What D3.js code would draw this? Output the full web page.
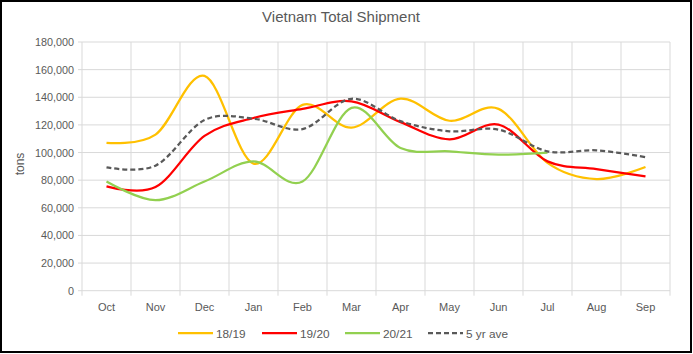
<!DOCTYPE html>
<html><head><meta charset="utf-8">
<script src="https://cdn.jsdelivr.net/npm/d3@7"></script>
<style>body{margin:0;background:#fff;}svg{display:block;}</style>
</head><body>
<script>
const months = ["Oct","Nov","Dec","Jan","Feb","Mar","Apr","May","Jun","Jul","Aug","Sep"];
const s1819 = [107000,113000,155500,92000,134500,118000,139000,123000,131600,92500,80800,89500];
const s1920 = [75500,75000,112000,125000,131600,137000,122000,109500,120200,93600,88000,82700];
const s2021 = [79000,65500,79000,93600,79000,132300,103300,100900,98500,100000];
const s5yr  = [89300,90500,123500,124500,117000,138900,122700,115400,116600,100900,101600,96700];
const yTicks = [0,20000,40000,60000,80000,100000,120000,140000,160000,180000];
const seriesNames = ["18/19","19/20","20/21","5 yr ave"];
const seriesColors = ["#FFC000","#FF0000","#92D050","#595959"];

const W=693,H=354;
const svg=d3.select("body").append("svg").attr("width",W).attr("height",H);
svg.append("rect").attr("x",1).attr("y",1).attr("width",W-3).attr("height",H-3)
  .attr("fill","#fff").attr("stroke","#000").attr("stroke-width",2);

const L=82,R=670,T=42,B=290.7;
const x=d3.scaleBand().domain(months).range([L,R]).padding(0);
const y=d3.scaleLinear().domain([0,180000]).range([B,T]);
const font="'Liberation Sans', Arial, sans-serif";

svg.append("g").selectAll("line").data(yTicks).join("line")
  .attr("x1",L-4).attr("x2",R).attr("y1",d=>y(d)).attr("y2",d=>y(d))
  .attr("stroke","#d9d9d9").attr("stroke-width",1);
const bounds=months.map(m=>x(m)).concat([R]);
svg.append("g").selectAll("line").data(bounds).join("line")
  .attr("x1",d=>d).attr("x2",d=>d).attr("y1",T).attr("y2",B+5)
  .attr("stroke","#d9d9d9").attr("stroke-width",1);

svg.append("g").selectAll("text").data(yTicks).join("text")
  .attr("x",74).attr("y",d=>y(d)+4).attr("text-anchor","end")
  .attr("font-family",font).attr("font-size",10.8).attr("fill","#595959")
  .text(d=>d3.format(",")(d));
svg.append("g").selectAll("text").data(months).join("text")
  .attr("x",d=>x(d)+x.bandwidth()/2).attr("y",311).attr("text-anchor","middle")
  .attr("font-family",font).attr("font-size",11).attr("fill","#595959")
  .text(d=>d);

svg.append("text").attr("x",341).attr("y",22).attr("text-anchor","middle")
  .attr("font-family",font).attr("font-size",15).attr("fill","#595959")
  .text("Vietnam Total Shipment");
svg.append("text").attr("transform","translate(24,164) rotate(-90)")
  .attr("text-anchor","middle").attr("font-family",font).attr("font-size",12)
  .attr("fill","#595959").text("tons");

const line=d3.line().x((d,i)=>x(months[i])+x.bandwidth()/2).y(d=>y(d))
  .curve(d3.curveCardinal.tension(0));
const allSeries=[s1819,s1920,s2021,s5yr];
allSeries.forEach((s,k)=>{
  svg.append("path").datum(s).attr("d",line).attr("fill","none")
    .attr("stroke",seriesColors[k]).attr("stroke-width",2.25)
    .attr("stroke-dasharray",k===3?"5,3":null);
});

const legX=[178,262,345,428];
seriesNames.forEach((n,k)=>{
  svg.append("line").attr("x1",legX[k]).attr("x2",legX[k]+35).attr("y1",333).attr("y2",333)
    .attr("stroke",seriesColors[k]).attr("stroke-width",2.25)
    .attr("stroke-dasharray",k===3?"5,3":null);
  svg.append("text").attr("x",legX[k]+38).attr("y",337.5).attr("font-family",font)
    .attr("font-size",11.8).attr("fill","#595959").text(n);
});
</script>
</body></html>
